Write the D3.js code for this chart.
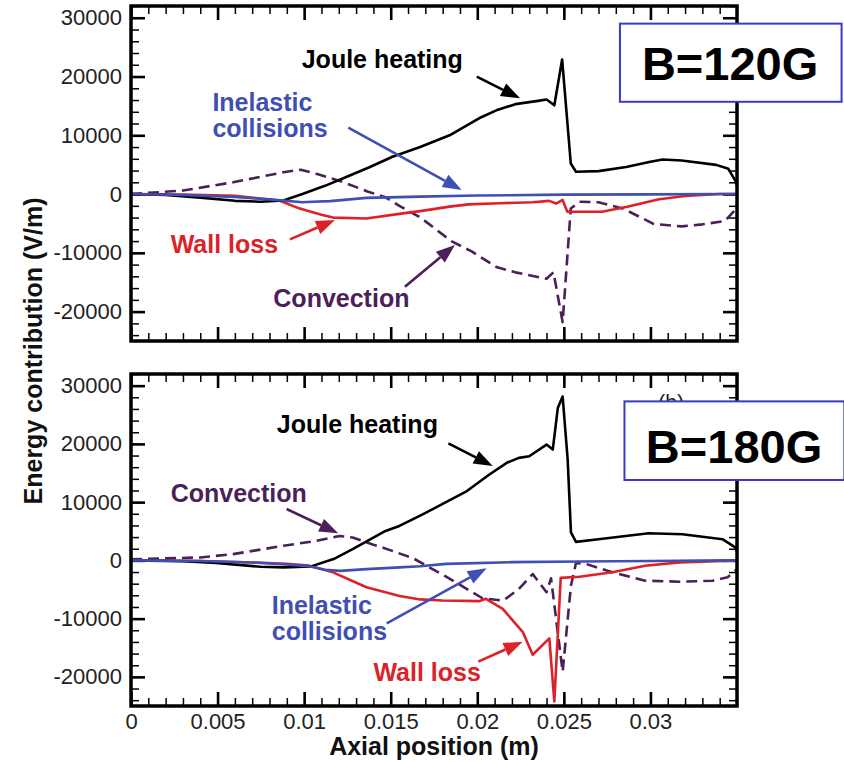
<!DOCTYPE html>
<html><head><meta charset="utf-8">
<script src="https://cdn.jsdelivr.net/npm/d3@7"></script>
<style>
body{margin:0;background:#fff}
svg{display:block}
text{font-family:"Liberation Sans",Arial,Helvetica,sans-serif}
</style>
</head><body>
<svg id="chart" width="844" height="762"></svg>
<script>
// ---------- axes ----------
const xDomain = [0, 0.035];
const yDomain = [-25000, 32000];
const xMajorTicks = [0, 0.005, 0.01, 0.015, 0.02, 0.025, 0.03];
const xTickLabels = ["0", "0.005", "0.01", "0.015", "0.02", "0.025", "0.03"];
const yMajorTicks = [-20000, -10000, 0, 10000, 20000, 30000];
const yTickLabels = ["-20000", "-10000", "0", "10000", "20000", "30000"];
const xTitle = "Axial position (m)";
const yTitle = "Energy contribution (V/m)";

// ---------- B = 120 G ----------
const joule120X = [0, 0.002, 0.004, 0.006, 0.0075, 0.0088, 0.0099, 0.0112, 0.0124, 0.0138, 0.0151, 0.0167, 0.0184, 0.0201, 0.0211, 0.0222, 0.0236, 0.0240, 0.02445, 0.0249, 0.0254, 0.0257, 0.0270, 0.0286, 0.0300, 0.0307, 0.0318, 0.0338, 0.0345, 0.0349, 0.035];
const joule120Y = [0, -150, -600, -1150, -1300, -1100, 0, 1400, 2860, 4600, 6350, 8000, 10000, 12900, 14250, 15300, 15900, 16100, 15100, 22900, 5200, 3800, 3900, 4600, 5500, 5880, 5710, 4970, 4290, 2300, 1500];

const inel120X = [0, 0.003, 0.006, 0.008, 0.0099, 0.0105, 0.0115, 0.0136, 0.0167, 0.020, 0.025, 0.030, 0.0345, 0.035];
const inel120Y = [0, -150, -500, -900, -1400, -1300, -1200, -650, -430, -250, -100, -50, 0, 0];

const wall120X = [0, 0.003, 0.006, 0.0086, 0.0097, 0.0110, 0.01167, 0.0136, 0.0157, 0.0167, 0.0184, 0.0195, 0.0213, 0.0232, 0.02416, 0.02455, 0.02493, 0.0252, 0.0272, 0.0286, 0.0305, 0.0320, 0.0340, 0.035];
const wall120Y = [0, -100, -300, -1140, -2430, -3500, -4000, -4150, -3290, -2900, -2140, -1750, -1550, -1400, -1160, -1610, -1000, -3000, -3000, -2200, -890, -330, 0, 0];

const conv120X = [0, 0.003, 0.0059, 0.0088, 0.0098, 0.0107, 0.0121, 0.0137, 0.0147, 0.0155, 0.0167, 0.0185, 0.0197, 0.0211, 0.0222, 0.0240, 0.02440, 0.02493, 0.0254, 0.0259, 0.0270, 0.0284, 0.0302, 0.0318, 0.0330, 0.0343, 0.0348, 0.035];
const conv120Y = [0, 600, 2010, 3710, 4150, 3440, 2200, 400, -550, -2000, -3950, -8000, -9800, -12400, -13320, -14400, -13300, -21800, -2440, -1310, -1400, -2440, -5100, -5500, -5150, -4600, -3000, -2200];

// ---------- B = 180 G ----------
const joule180X = [0, 0.003, 0.0049, 0.0075, 0.0088, 0.0104, 0.0117, 0.0128, 0.0147, 0.0155, 0.0167, 0.0174, 0.0194, 0.0207, 0.0217, 0.0224, 0.0230, 0.0240, 0.02436, 0.02465, 0.02493, 0.02522, 0.02541, 0.0257, 0.0270, 0.0299, 0.03185, 0.03416, 0.0349, 0.035];
const joule180Y = [0, -150, -460, -1100, -1200, -1030, 220, 1930, 5060, 5910, 7700, 8770, 11900, 14750, 16750, 17600, 17880, 19880, 19030, 26150, 28140, 17320, 4790, 3180, 3640, 4670, 4500, 3640, 2220, 1500];

const inel180X = [0, 0.004, 0.007, 0.0090, 0.0103, 0.0112, 0.0121, 0.0136, 0.0155, 0.0167, 0.0182, 0.0220, 0.0260, 0.0300, 0.0345, 0.035];
const inel180Y = [0, -100, -350, -700, -1000, -1600, -1800, -1500, -1200, -1000, -600, -300, -200, -100, 0, 0];

const wall180X = [0, 0.004, 0.007, 0.0090, 0.0103, 0.01167, 0.0136, 0.01551, 0.0167, 0.0180, 0.0201, 0.0205, 0.02147, 0.02263, 0.0232, 0.02416, 0.02445, 0.02482, 0.0259, 0.0278, 0.0297, 0.0317, 0.0342, 0.035];
const wall180Y = [0, -100, -350, -600, -900, -2050, -4620, -6100, -6700, -6900, -7000, -6600, -8320, -12300, -16200, -13380, -24200, -3000, -2800, -2050, -920, -340, -100, 0];

const conv180X = [0, 0.004, 0.0059, 0.0088, 0.0107, 0.01205, 0.0128, 0.0140, 0.0144, 0.0163, 0.0182, 0.0203, 0.0215, 0.0224, 0.0232, 0.0240, 0.02426, 0.02493, 0.02541, 0.0257, 0.0263, 0.0278, 0.0297, 0.0317, 0.0336, 0.03445, 0.0348, 0.035];
const conv180Y = [200, 500, 1080, 2500, 3350, 4200, 3930, 2700, 2350, 360, -2800, -6500, -6900, -4900, -2340, -5470, -3080, -19100, -4340, -460, -630, -2050, -3490, -3660, -3490, -2900, -2050, -1500];

const seriesNames = ["Convection", "Wall loss", "Joule heating", "Inelastic collisions"];
const seriesColors = {"Joule heating": "#000000", "Inelastic collisions": "#3f4fb3", "Wall loss": "#dc2229", "Convection": "#4a1f5a"};

const panels = [
  {label: "B=120G", extra: null,
   data: {"Convection": [conv120X, conv120Y], "Wall loss": [wall120X, wall120Y], "Joule heating": [joule120X, joule120Y], "Inelastic collisions": [inel120X, inel120Y]},
   notes: [
     {s: "Joule heating", lines: ["Joule heating"], at: [0.00986, 21450], from: [0.01997, 19970], to: [0.02247, 16300]},
     {s: "Inelastic collisions", lines: ["Inelastic", "collisions"], at: [0.0047, 14130], from: [0.01255, 11290], to: [0.0191, 690]},
     {s: "Wall loss", lines: ["Wall loss"], at: [0.00229, -10080], from: [0.00918, -7700], to: [0.01178, -4410]},
     {s: "Convection", lines: ["Convection"], at: [0.00822, -19270], from: [0.01582, -15760], to: [0.01871, -8670]}
   ],
   box: {x0: 0.02824, x1: 0.04104, y0: 29000, y1: 15700, tx: 0.03460, ty: 19400}},
  {label: "B=180G", extra: "(b)",
   data: {"Convection": [conv180X, conv180Y], "Wall loss": [wall180X, wall180Y], "Joule heating": [joule180X, joule180Y], "Inelastic collisions": [inel180X, inel180Y]},
   notes: [
     {s: "Joule heating", lines: ["Joule heating"], at: [0.00842, 21920], from: [0.01833, 20100], to: [0.02089, 16200]},
     {s: "Convection", lines: ["Convection"], at: [0.00229, 10080], from: [0.00899, 8820], to: [0.01197, 4650]},
     {s: "Inelastic collisions", lines: ["Inelastic", "collisions"], at: [0.00813, -9260], from: [0.01477, -10800], to: [0.02054, -1360]},
     {s: "Wall loss", lines: ["Wall loss"], at: [0.014, -20660], from: [0.02006, -17390], to: [0.02262, -13960]}
   ],
   box: {x0: 0.02850, x1: 0.04120, y0: 27300, y1: 13800, tx: 0.03483, ty: 16800}}
];

// ---------- drawing ----------
const svg = d3.select("#chart");
svg.append("rect").attr("width", 844).attr("height", 762).attr("fill", "#fff");

const left = 131, right = 737;
const panelBoxes = [{top: 6, bottom: 341}, {top: 374, bottom: 706}];
const x = d3.scaleLinear().domain(xDomain).range([left, right]);
const xMinor = d3.range(0, 0.0355, 0.001);
const yMinor = d3.range(-24000, 32001, 2000);

panels.forEach((p, i) => {
  const pb = panelBoxes[i];
  const y = d3.scaleLinear().domain(yDomain).range([pb.bottom, pb.top]);
  const g = svg.append("g");
  const clipId = "clip" + i;
  g.append("clipPath").attr("id", clipId).append("rect")
    .attr("x", left).attr("y", pb.top).attr("width", right - left).attr("height", pb.bottom - pb.top);

  const tickG = g.append("g");
  const addAxis = (axis, transform, major) => {
    const a = tickG.append("g").attr("transform", transform).call(axis);
    a.select(".domain").remove();
    a.selectAll(".tick line").attr("stroke", "#000").attr("stroke-width", major ? 2.6 : 1.5);
    return a;
  };
  // minor ticks (all four sides, pointing inward)
  addAxis(d3.axisBottom(x).tickValues(xMinor).tickSize(-8).tickFormat(""), `translate(0,${pb.bottom})`, false);
  addAxis(d3.axisTop(x).tickValues(xMinor).tickSize(-8).tickFormat(""), `translate(0,${pb.top})`, false);
  addAxis(d3.axisLeft(y).tickValues(yMinor).tickSize(-8).tickFormat(""), `translate(${left},0)`, false);
  addAxis(d3.axisRight(y).tickValues(yMinor).tickSize(-8).tickFormat(""), `translate(${right},0)`, false);
  // major ticks
  const xb = addAxis(d3.axisBottom(x).tickValues(xMajorTicks).tickSize(-14).tickPadding(7)
      .tickFormat((d, k) => i === 1 ? xTickLabels[k] : ""), `translate(0,${pb.bottom})`, true);
  addAxis(d3.axisTop(x).tickValues(xMajorTicks).tickSize(-14).tickFormat(""), `translate(0,${pb.top})`, true);
  const yl = addAxis(d3.axisLeft(y).tickValues(yMajorTicks).tickSize(-14).tickPadding(9)
      .tickFormat((d, k) => yTickLabels[k]), `translate(${left},0)`, true);
  addAxis(d3.axisRight(y).tickValues(yMajorTicks).tickSize(-14).tickFormat(""), `translate(${right},0)`, true);
  [xb, yl].forEach(a => a.selectAll(".tick text")
    .attr("font-size", 22).attr("fill", "#222")
    .attr("font-family", '"Liberation Sans",Arial,Helvetica,sans-serif'));

  // curves
  const line = d3.line().x(d => x(d[0])).y(d => y(d[1]));
  const curves = g.append("g").attr("clip-path", `url(#${clipId})`);
  seriesNames.forEach(name => {
    const [xs, ys] = p.data[name];
    const pts = xs.map((v, k) => [v, ys[k]]);
    curves.append("path").datum(pts).attr("d", line)
      .attr("fill", "none").attr("stroke", seriesColors[name])
      .attr("stroke-width", 2.6).attr("stroke-linejoin", "round")
      .attr("stroke-dasharray", name === "Convection" ? "11,6" : null);
  });

  // annotations
  p.notes.forEach(n => {
    const col = seriesColors[n.s];
    const t = g.append("text").attr("x", x(n.at[0])).attr("y", y(n.at[1]))
      .attr("font-size", 25).attr("font-weight", "bold").attr("fill", col);
    n.lines.forEach((ln, k) => t.append("tspan").attr("x", x(n.at[0])).attr("dy", k === 0 ? 0 : 25.7).text(ln));
    const x0 = x(n.from[0]), y0 = y(n.from[1]), x1 = x(n.to[0]), y1 = y(n.to[1]);
    const ang = Math.atan2(y1 - y0, x1 - x0), L = 19, W = 7;
    const bx = x1 - L * Math.cos(ang), by = y1 - L * Math.sin(ang);
    g.append("line").attr("x1", x0).attr("y1", y0).attr("x2", bx).attr("y2", by)
      .attr("stroke", col).attr("stroke-width", 2.6);
    g.append("path").attr("fill", col)
      .attr("d", `M${x1},${y1}L${bx + W * Math.sin(ang)},${by - W * Math.cos(ang)}L${bx - W * Math.sin(ang)},${by + W * Math.cos(ang)}Z`);
  });

  // frame
  g.append("rect").attr("x", left).attr("y", pb.top).attr("width", right - left).attr("height", pb.bottom - pb.top)
    .attr("fill", "none").attr("stroke", "#000").attr("stroke-width", 3.5);

  // panel tag mostly hidden behind the label box
  if (p.extra) {
    g.append("text").attr("x", x(0.0312)).attr("y", y(26000)).attr("text-anchor", "middle")
      .attr("font-size", 21).attr("fill", "#222").text(p.extra);
  }
  const b = p.box;
  g.append("rect").attr("x", x(b.x0)).attr("y", y(b.y0)).attr("width", x(b.x1) - x(b.x0)).attr("height", y(b.y1) - y(b.y0))
    .attr("fill", "#fff").attr("stroke", "#3a3ac8").attr("stroke-width", 2);
  g.append("text").attr("x", x(b.tx)).attr("y", y(b.ty)).attr("text-anchor", "middle")
    .attr("font-size", 47).attr("font-weight", "bold").attr("fill", "#000").text(p.label);
});

// axis titles
svg.append("text").attr("x", 434).attr("y", 755).attr("text-anchor", "middle")
  .attr("font-size", 25).attr("font-weight", "bold").attr("fill", "#111").text(xTitle);
svg.append("text").attr("transform", "translate(42,351) rotate(-90)").attr("text-anchor", "middle")
  .attr("font-size", 25).attr("font-weight", "bold").attr("fill", "#111").text(yTitle);
</script>
</body></html>
